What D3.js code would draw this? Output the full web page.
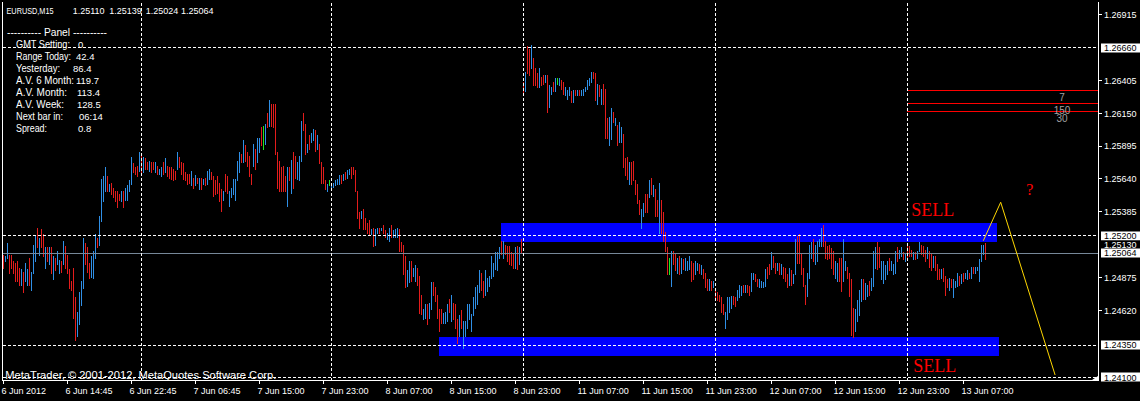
<!DOCTYPE html>
<html><head><meta charset="utf-8">
<script src="https://cdn.jsdelivr.net/npm/d3@7/dist/d3.min.js"></script>
<style>html,body{margin:0;padding:0;background:#000;overflow:hidden}</style>
</head><body><svg id="c" width="1140" height="401"></svg>
<script>
// ---------------- data ----------------
const symbolText = "EURUSD,M15";
const headerPrices = ["1.25110", "1.25139", "1.25024", "1.25064"];
const BASE = 1.2400, PIP = 0.0001;   // bar highs/lows stored in pips above BASE

const highPips = [
  // bars 0-163
  105,104,114,105,105,100,99,100,95,94,92,99,94,103,92,113,120,126,118,125,
  121,111,111,111,111,104,103,108,101,100,116,112,105,94,85,95,72,61,76,85,
  118,114,111,99,104,108,121,118,135,164,166,173,166,160,161,157,155,155,152,155,
  155,157,159,163,181,176,173,174,185,182,181,180,177,178,177,177,177,174,172,173,
  177,180,174,173,173,172,170,185,181,177,176,169,168,168,170,165,167,165,165,165,
  164,165,170,172,169,166,163,166,161,156,155,168,166,155,157,164,164,178,185,183,
  194,190,185,182,168,191,187,196,196,204,205,207,215,225,222,222,222,185,178,173,
  174,166,173,173,179,185,182,177,182,209,215,207,191,198,200,203,202,198,191,177,
  173,163,160,163,
  // bars 164-323
  161,161,163,164,167,167,168,169,171,172,173,173,171,155,138,139,141,134,130,132,
  125,126,125,126,126,126,128,124,122,126,128,124,125,126,125,115,113,104,93,100,
  100,95,97,95,89,74,63,67,67,68,84,84,80,74,63,63,60,61,67,71,
  74,68,67,55,58,62,54,54,67,67,59,72,80,82,93,91,85,93,87,89,
  104,99,107,107,111,116,116,113,112,112,107,106,111,112,111,117,
  239,247,267,265,268,258,250,246,250,243,245,245,245,237,235,239,242,242,242,241,
  239,235,233,235,232,233,233,233,233,233,234,235,241,242,247,247,246,238,237,234,
  238,234,211,212,219,216,211,206,208,204,199,180,181,177,177,178,163,160,148,141,
  145,152,152,163,
  // bars 324-491
  165,159,156,148,161,148,138,123,111,103,108,108,106,103,104,103,102,103,100,104,
  100,99,100,99,98,97,94,91,86,86,85,85,77,76,74,72,67,61,72,72,
  73,73,72,78,82,81,82,82,82,81,91,91,90,86,86,85,84,94,96,98,
  107,104,99,99,99,98,96,95,90,95,93,90,117,120,121,106,95,82,91,113,
  115,117,113,116,117,126,128,116,112,113,110,108,100,99,103,103,117,100,96,91,
  86,64,63,70,78,86,86,83,82,85,87,108,111,115,111,100,100,97,100,103,
  100,98,108,111,109,111,107,106,112,112,109,107,107,108,115,113,112,109,111,108,
  106,104,104,98,94,94,95,89,86,87,86,86,85,91,89,90,91,91,93,91,
  96,96,96,96,102,113,113,114
];
const lowPips = [
  // bars 0-163
  95,100,103,91,95,91,85,85,82,82,76,85,82,82,78,91,100,111,105,111,
  104,95,100,98,91,86,93,98,91,92,98,95,91,79,78,56,39,42,51,66,
  79,98,92,87,88,87,103,111,113,131,147,155,155,155,152,150,147,142,148,147,
  142,148,148,155,160,169,168,166,170,168,169,172,172,170,169,172,169,168,168,166,
  168,169,166,165,164,163,164,172,173,168,164,163,160,161,159,157,159,161,156,156,
  160,159,160,164,164,151,152,153,147,139,148,155,153,143,150,152,148,163,169,177,
  177,178,174,166,160,174,172,177,185,190,187,191,204,205,205,204,183,157,155,155,
  155,155,143,163,153,157,165,164,163,178,202,183,185,187,193,194,186,187,176,161,
  161,156,155,159,
  // bars 164-323
  156,158,159,160,160,161,163,164,165,168,165,168,155,134,126,134,125,125,122,121,
  121,112,113,122,122,124,122,119,117,116,119,119,119,119,108,108,90,80,81,84,
  85,89,85,82,60,59,55,56,51,56,63,74,69,56,46,52,52,52,54,61,
  54,55,48,37,42,48,33,42,48,55,46,58,64,67,76,78,72,74,77,81,
  87,89,94,93,103,106,103,106,100,98,97,95,95,94,98,107,
  230,232,246,245,250,237,237,235,235,237,238,239,216,220,230,232,232,238,237,234,
  230,229,226,229,224,224,229,229,229,229,229,232,234,237,239,242,225,222,228,222,
  222,196,196,190,195,208,206,190,193,193,173,167,164,160,160,163,152,145,137,126,
  135,138,138,150,
  // bars 324-491
  152,151,135,135,122,122,116,108,90,90,81,98,93,91,90,91,94,93,93,94,
  85,86,90,93,91,90,87,80,78,78,78,80,72,70,69,61,59,48,55,61,
  64,67,65,70,72,74,76,76,76,74,77,86,85,81,80,80,80,81,87,90,
  94,96,91,93,90,90,87,85,80,82,82,83,90,99,99,90,81,67,73,87,
  103,100,98,100,112,112,112,103,102,103,95,90,87,85,85,77,85,93,87,73,
  43,41,46,54,58,69,71,71,73,74,78,81,95,94,96,86,83,86,90,93,
  93,90,91,100,103,104,102,100,102,104,104,102,102,103,108,106,104,100,103,96,
  93,96,93,86,86,87,85,74,80,78,80,72,80,81,82,83,85,87,86,87,
  87,91,91,93,85,100,106,102
];
// bar direction per bar: u = up, d = down, g = unchanged
const barDirs = [
  "duuddddddu","duuduuudud","dudududuud","udddddduuu","uddduuuduu","uududddddu",
  "duuuudddud","uddudduduu","dudddddudd","ddddududud","uduudddddd","udduuuuuud",
  "udddduduud","gududddddd","ddududduuu","dduduududd","ddug",
  "uuuuududuu","dddddudddd","uduududduu","duuudddduu","duuddduudu","uddddduuud",
  "uddduduuuu","uuuuudduuu","uuuuududdd","ddudud",
  "duddudddud","duduudugud","duuudududu","uuuuuddudu","ddduududuu","dddudddddu","uddu",
  "dudduddddg","uddududuuu","dduududddu","duddddduuu","udduuududd","uudduuuudd",
  "uddududddu","duuddddduu","uduuuudddd","dduudduudd","dduuuuduud","uuudduuuud",
  "uuuduududd","duduudddud","dudddudddu","duuududuud","uduuuuud"
].join("").split("");

const timeLabels = ["6 Jun 2012","6 Jun 14:45","6 Jun 22:45","7 Jun 06:45","7 Jun 15:00",
  "7 Jun 23:00","8 Jun 07:00","8 Jun 15:00","8 Jun 23:00","11 Jun 07:00","11 Jun 15:00",
  "11 Jun 23:00","12 Jun 07:00","12 Jun 15:00","12 Jun 23:00","13 Jun 07:00"];
const barsPerTimeLabel = 32;
const priceTicks = [1.26915, 1.26405, 1.26150, 1.25895, 1.25640, 1.25385, 1.24875, 1.24620];
const dashedLevels = [1.26660, 1.25200, 1.24350, 1.24100];
const dayStartBars = [69, 164, 260, 356, 452];
const bidPrice = 1.25064;
const zoneLabelPrice = 1.25130;
const zoneFromBar = [249, 218], zoneToBar = [497, 498];
const zoneTop = [1.25298, 1.24413], zoneBottom = [1.25150, 1.24268];
const sideLevels = [1.26323, 1.26227, 1.26167];
const sideLevelTexts = ["7", "150", "30"];
const sideLevelFromBar = 452;
const forecastBar = [490, 498.7, 525.9];
const forecastPrice = [1.25160, 1.25459, 1.24118];
const noteTexts = ["SELL", "SELL", "?"];
const noteBar = [454, 455, 511.5];
const notePrice = [1.25352, 1.24141, 1.25515];
const panelLabels = ["GMT Setting:", "Range Today:", "Yesterday:", "A.V. 6 Month:", "A.V. Month:", "A.V. Week:", "Next bar in:", "Spread:"];
const panelValues = ["0", "42.4", "86.4", "119.7", "113.4", "128.5", "06:14", "0.8"];
const panelTitle = "----------  Panel  ----------";
const copyrightText = "MetaTrader, \u00a9 2001-2012, MetaQuotes Software Corp.";

// ---------------- drawing ----------------
const W = 1140, H = 401;
const L = 3, R = 1098, T = 3, B = 380;
const SANS = "'Liberation Sans', Arial, sans-serif";
const SERIF = "'Liberation Serif', 'Times New Roman', serif";

const svg = d3.select("#c");
svg.append("rect").attr("width", W).attr("height", H).attr("fill", "#000");

const x = d3.scaleLinear().domain([0, 547]).range([3.3, 1097.3]);
const y = d3.scaleLinear().domain([1.24100, 1.26915]).range([377.3, 14.7]);
const crisp = v => Math.floor(v) + 0.5;

svg.append("defs").append("clipPath").attr("id", "clip")
  .append("rect").attr("x", L).attr("y", T).attr("width", R - L).attr("height", B - T);
const plot = svg.append("g").attr("clip-path", "url(#clip)");

// zones (blue rectangles)
plot.selectAll("rect.zone").data(zoneFromBar.map((f, i) => ({f, t: zoneToBar[i], top: zoneTop[i], bot: zoneBottom[i]})))
  .join("rect").attr("class", "zone")
  .attr("x", d => Math.floor(x(d.f))).attr("width", d => Math.floor(x(d.t)) - Math.floor(x(d.f)))
  .attr("y", d => Math.round(y(d.top))).attr("height", d => Math.round(y(d.bot)) - Math.round(y(d.top)))
  .attr("fill", "#0000ff");

// bars
const n = Math.min(highPips.length, lowPips.length, barDirs.length);
const bars = d3.range(n).map(i => ({i, hi: BASE + highPips[i] * PIP, lo: BASE + lowPips[i] * PIP, dir: barDirs[i]}));
const barColor = {u: "#2f8fe6", d: "#e31c1c", g: "#22e622"};
plot.selectAll("rect.bar").data(bars).join("rect").attr("class", "bar")
  .attr("x", d => Math.floor(x(d.i))).attr("width", 1)
  .attr("y", d => Math.round(y(d.hi)))
  .attr("height", d => Math.max(1, Math.round(y(d.lo)) - Math.round(y(d.hi)) + 1))
  .attr("fill", d => barColor[d.dir] || "#2f8fe6");

// side indicator levels
plot.selectAll("line.side").data(sideLevels).join("line").attr("class", "side")
  .attr("x1", Math.floor(x(sideLevelFromBar))).attr("x2", R)
  .attr("y1", d => crisp(y(d))).attr("y2", d => crisp(y(d)))
  .attr("stroke", "#ff0000").attr("stroke-width", 1);
svg.selectAll("text.side").data(sideLevels).join("text").attr("class", "side")
  .attr("x", 1062).attr("y", d => y(d) + 10.5).attr("text-anchor", "middle")
  .attr("font-family", SANS).attr("font-size", 10).attr("fill", "#a0a0a0")
  .text((d, i) => sideLevelTexts[i]);

// bid line
plot.append("line").attr("x1", L).attr("x2", R)
  .attr("y1", crisp(y(bidPrice))).attr("y2", crisp(y(bidPrice)))
  .attr("stroke", "#778899").attr("stroke-width", 1);

// dashed horizontal levels
plot.selectAll("line.hl").data(dashedLevels).join("line").attr("class", "hl")
  .attr("x1", L).attr("x2", R)
  .attr("y1", d => crisp(y(d))).attr("y2", d => crisp(y(d)))
  .attr("stroke", "#fff").attr("stroke-width", 1).attr("stroke-dasharray", "3,2");

// day separators
plot.selectAll("line.day").data(dayStartBars).join("line").attr("class", "day")
  .attr("x1", d => crisp(x(d))).attr("x2", d => crisp(x(d)))
  .attr("y1", T).attr("y2", B)
  .attr("stroke", "#fff").attr("stroke-width", 1).attr("stroke-dasharray", "3,2");

// forecast zig-zag
plot.append("path")
  .datum(forecastBar.map((b, i) => [b, forecastPrice[i]]))
  .attr("d", d3.line().x(d => x(d[0])).y(d => y(d[1])))
  .attr("fill", "none").attr("stroke", "#ffd700").attr("stroke-width", 1);

// notes
plot.selectAll("text.note").data(noteTexts).join("text").attr("class", "note")
  .attr("x", (d, i) => x(noteBar[i])).attr("y", (d, i) => y(notePrice[i]))
  .attr("font-family", SERIF).attr("font-size", (d) => d === "?" ? 16 : 18)
  .attr("fill", "#ff0000").text(d => d);

// frame
const frame = svg.append("g").attr("stroke", "#fff").attr("stroke-width", 1);
frame.append("line").attr("x1", 2.5).attr("x2", 2.5).attr("y1", 2).attr("y2", B + 1);
frame.append("line").attr("x1", 2).attr("x2", R + 1).attr("y1", B + 0.5).attr("y2", B + 0.5);
frame.append("line").attr("x1", R + 0.5).attr("x2", R + 0.5).attr("y1", 2).attr("y2", B + 1);
svg.append("path").attr("d", `M${R - 6},${B} L${R},${B} L${R},${B - 4} Z`).attr("fill", "#fff");

// time axis
const tIdx = timeLabels.map((t, i) => i * barsPerTimeLabel);
svg.selectAll("line.tt").data(tIdx).join("line").attr("class", "tt")
  .attr("x1", d => crisp(x(d))).attr("x2", d => crisp(x(d)))
  .attr("y1", B + 1).attr("y2", B + 4).attr("stroke", "#fff");
svg.selectAll("text.tl").data(timeLabels).join("text").attr("class", "tl")
  .attr("x", (d, i) => x(tIdx[i]) - 1.8).attr("y", 394)
  .attr("font-family", SANS).attr("font-size", 9).attr("fill", "#fff").text(d => d);

// price axis
svg.selectAll("line.pt").data(priceTicks).join("line").attr("class", "pt")
  .attr("x1", R + 1).attr("x2", R + 4)
  .attr("y1", d => crisp(y(d))).attr("y2", d => crisp(y(d))).attr("stroke", "#fff");
svg.selectAll("text.pl").data(priceTicks).join("text").attr("class", "pl")
  .attr("x", 1104).attr("y", d => y(d) + 3.3)
  .attr("font-family", SANS).attr("font-size", 9).attr("fill", "#fff").text(d => d.toFixed(5));

// boxed price labels
function boxLabel(v, bg, fg) {
  const yy = y(v);
  svg.append("rect").attr("x", 1101).attr("y", Math.round(yy) - 4.5).attr("width", 39).attr("height", 9).attr("fill", bg);
  svg.append("text").attr("x", 1104).attr("y", yy + 3.3)
    .attr("font-family", SANS).attr("font-size", 9).attr("fill", fg).text(v.toFixed(5));
}
boxLabel(dashedLevels[0], "#fff", "#000");
boxLabel(dashedLevels[1], "#fff", "#000");
boxLabel(zoneLabelPrice, "#000", "#fff");
boxLabel(bidPrice, "#fff", "#000");
boxLabel(dashedLevels[2], "#fff", "#000");
boxLabel(dashedLevels[3], "#fff", "#000");

// header
svg.append("text").attr("x", 6.5).attr("y", 13.5).attr("font-family", SANS).attr("font-size", 9)
  .attr("fill", "#fff").attr("textLength", 47).attr("lengthAdjust", "spacingAndGlyphs").text(symbolText);
const headerX = [72.7, 109.3, 145.7, 181];
svg.selectAll("text.hp").data(headerPrices).join("text").attr("class", "hp")
  .attr("x", (d, i) => headerX[i]).attr("y", 13.5)
  .attr("font-family", SANS).attr("font-size", 9).attr("fill", "#fff").text(d => d);

// panel
svg.append("text").attr("x", 7).attr("y", 36).attr("font-family", SANS).attr("font-size", 10)
  .attr("fill", "#fff").attr("textLength", 100).attr("lengthAdjust", "spacingAndGlyphs").text(panelTitle);
const panelLabelW = [54, 55, 44, 58, 51, 48, 47, 31];
const panelValueX = [78, 76, 73, 76, 77, 77, 79, 78];
svg.selectAll("text.plab").data(panelLabels).join("text").attr("class", "plab")
  .attr("x", 16).attr("y", (d, i) => 48 + i * 12)
  .attr("font-family", SANS).attr("font-size", 10).attr("fill", "#fff")
  .attr("textLength", (d, i) => panelLabelW[i]).attr("lengthAdjust", "spacingAndGlyphs").text(d => d);
svg.selectAll("text.pval").data(panelValues).join("text").attr("class", "pval")
  .attr("x", (d, i) => panelValueX[i]).attr("y", (d, i) => 48 + i * 12)
  .attr("font-family", SANS).attr("font-size", 9.5).attr("fill", "#fff").text(d => d);

// copyright
svg.append("text").attr("x", 5.3).attr("y", 378.5).attr("font-family", SANS).attr("font-size", 10)
  .attr("fill", "#fff").attr("textLength", 271).attr("lengthAdjust", "spacingAndGlyphs").text(copyrightText);
</script>
</body></html>
